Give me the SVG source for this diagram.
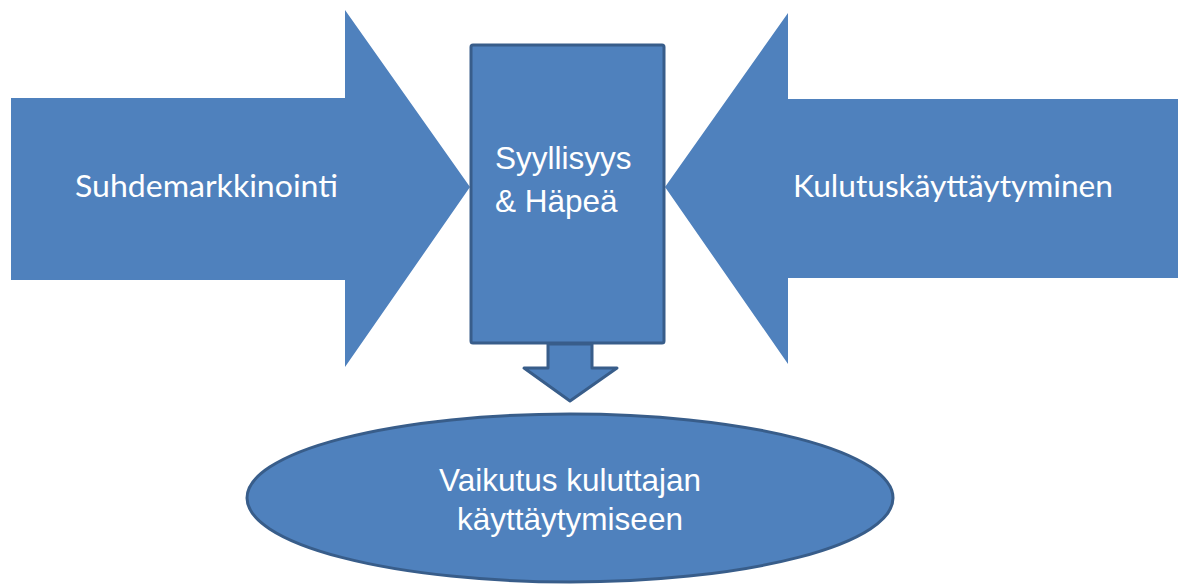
<svg xmlns="http://www.w3.org/2000/svg" width="1178" height="584" viewBox="0 0 1178 584">
<style>
.fill{fill:#4f81bd}
.edge{fill:#4f81bd;stroke:#385d8a;stroke-width:3;stroke-linejoin:round}
.cal{font-family:Lato,"Open Sans","Liberation Sans",sans-serif;font-size:31px;fill:#ffffff}
.ari{font-family:"Liberation Sans",Arial,sans-serif;font-size:31.5px;fill:#ffffff}
</style>
<rect width="1178" height="584" fill="#ffffff"/>
<g id="suhdemarkkinointi">
<polygon class="fill" points="11,98 345,98 345,10 470,187 345,367 345,280 11,280"/>
<text class="cal" x="75" y="197" textLength="263" lengthAdjust="spacingAndGlyphs">Suhdemarkkinointi</text>
</g>
<g id="kulutuskayttaytyminen">
<polygon class="fill" points="1178,99 788,99 788,13 665,187 788,364 788,278 1178,278"/>
<text class="cal" x="793" y="197" textLength="320" lengthAdjust="spacingAndGlyphs">Kulutuskäyttäytyminen</text>
</g>
<g id="syyllisyys">
<rect class="edge" x="471" y="45" width="193" height="298" rx="2"/>
<text class="ari" x="495" y="169">Syyllisyys</text>
<text class="ari" x="495" y="212">&amp; Häpeä</text>
</g>
<g id="connectors">
<polygon class="edge" points="548,344 592,344 592,368 617,368 570,401 524,368 548,368"/>
</g>
<g id="vaikutus">
<ellipse class="edge" cx="570" cy="498" rx="323" ry="84"/>
<text class="ari" x="570" y="491" text-anchor="middle" font-size="32">Vaikutus kuluttajan</text>
<text class="ari" x="570" y="530" text-anchor="middle" font-size="32">käyttäytymiseen</text>
</g>
</svg>
